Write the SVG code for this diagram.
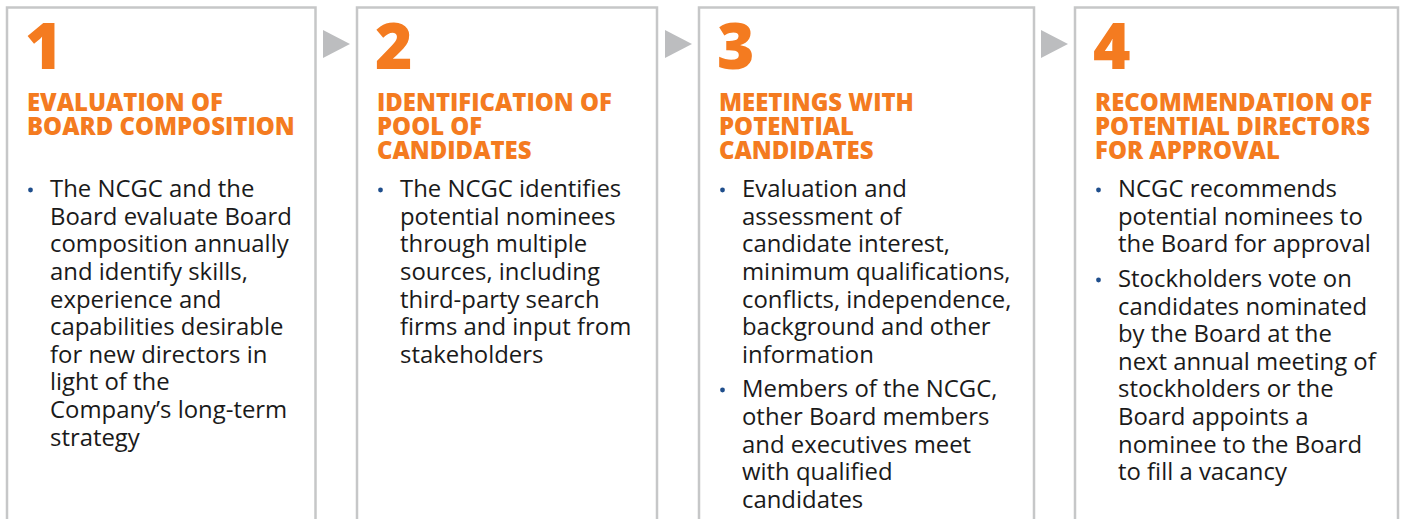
<svg xmlns="http://www.w3.org/2000/svg" width="1401" height="519" viewBox="0 0 1401 519">
<style>
.box{fill:#fff;stroke:#c6c7c8;stroke-width:2.5}
.arrow{fill:#bcbdbf}
.num{font-family:"Open Sans","Liberation Sans",sans-serif;font-weight:800;font-size:64px;fill:#f47b20}
.head{font-family:"Open Sans","Liberation Sans",sans-serif;font-weight:800;font-size:23.9px;fill:#f47b20}
.body{font-family:"Open Sans","Liberation Sans",sans-serif;font-weight:400;font-size:23.9px;fill:#1a1a1a}
.dot{fill:#1f4e8c}
</style>
<rect width="1401" height="519" fill="#fff"/>
<g id="connectors">
<polygon class="arrow" points="323,30 350,44 323,58"/>
<polygon class="arrow" points="665,30 692,44 665,58"/>
<polygon class="arrow" points="1041,30 1068,44 1041,58"/>
</g>
<g transform="translate(0,1)">
<g id="step1">
<path class="box" d="M7,525 V6.5 H315.5 V525"/>
<text class="num" x="25" y="68">1</text>
<text class="head" x="27"><tspan x="27" y="110">EVALUATION OF</tspan><tspan x="27" y="134">BOARD COMPOSITION</tspan></text>
<circle class="dot" cx="30.5" cy="189" r="2.4"/>
<text class="body"><tspan x="50" y="196">The NCGC and the</tspan><tspan x="50" y="224">Board evaluate Board</tspan><tspan x="50" y="251">composition annually</tspan><tspan x="50" y="279">and identify skills,</tspan><tspan x="50" y="307">experience and</tspan><tspan x="50" y="334">capabilities desirable</tspan><tspan x="50" y="362">for new directors in</tspan><tspan x="50" y="389">light of the</tspan><tspan x="50" y="417">Company’s long-term</tspan><tspan x="50" y="445">strategy</tspan></text>
</g>
<g id="step2">
<path class="box" d="M357,525 V6.5 H657 V525"/>
<text class="num" x="375" y="68">2</text>
<text class="head"><tspan x="377" y="110">IDENTIFICATION OF</tspan><tspan x="377" y="134">POOL OF</tspan><tspan x="377" y="158">CANDIDATES</tspan></text>
<circle class="dot" cx="380.5" cy="189" r="2.4"/>
<text class="body"><tspan x="400" y="196">The NCGC identifies</tspan><tspan x="400" y="224">potential nominees</tspan><tspan x="400" y="251">through multiple</tspan><tspan x="400" y="279">sources, including</tspan><tspan x="400" y="307">third-party search</tspan><tspan x="400" y="334">firms and input from</tspan><tspan x="400" y="362">stakeholders</tspan></text>
</g>
<g id="step3">
<path class="box" d="M699,525 V6.5 H1034 V525"/>
<text class="num" x="717" y="68">3</text>
<text class="head"><tspan x="719" y="110">MEETINGS WITH</tspan><tspan x="719" y="134">POTENTIAL</tspan><tspan x="719" y="158">CANDIDATES</tspan></text>
<circle class="dot" cx="722.5" cy="189" r="2.4"/>
<text class="body"><tspan x="742" y="196">Evaluation and</tspan><tspan x="742" y="224">assessment of</tspan><tspan x="742" y="251">candidate interest,</tspan><tspan x="742" y="279">minimum qualifications,</tspan><tspan x="742" y="307">conflicts, independence,</tspan><tspan x="742" y="334">background and other</tspan><tspan x="742" y="362">information</tspan></text>
<circle class="dot" cx="722.5" cy="389" r="2.4"/>
<text class="body"><tspan x="742" y="396">Members of the NCGC,</tspan><tspan x="742" y="424">other Board members</tspan><tspan x="742" y="452">and executives meet</tspan><tspan x="742" y="479">with qualified</tspan><tspan x="742" y="507">candidates</tspan></text>
</g>
<g id="step4">
<path class="box" d="M1075,525 V6.5 H1398 V525"/>
<text class="num" x="1093" y="68">4</text>
<text class="head"><tspan x="1095" y="110">RECOMMENDATION OF</tspan><tspan x="1095" y="134">POTENTIAL DIRECTORS</tspan><tspan x="1095" y="158">FOR APPROVAL</tspan></text>
<circle class="dot" cx="1098.5" cy="189" r="2.4"/>
<text class="body"><tspan x="1118" y="196">NCGC recommends</tspan><tspan x="1118" y="224">potential nominees to</tspan><tspan x="1118" y="251">the Board for approval</tspan></text>
<circle class="dot" cx="1098.5" cy="279" r="2.4"/>
<text class="body"><tspan x="1118" y="286">Stockholders vote on</tspan><tspan x="1118" y="314">candidates nominated</tspan><tspan x="1118" y="341">by the Board at the</tspan><tspan x="1118" y="369">next annual meeting of</tspan><tspan x="1118" y="396">stockholders or the</tspan><tspan x="1118" y="424">Board appoints a</tspan><tspan x="1118" y="452">nominee to the Board</tspan><tspan x="1118" y="479">to fill a vacancy</tspan></text>
</g>
</g>
</svg>
